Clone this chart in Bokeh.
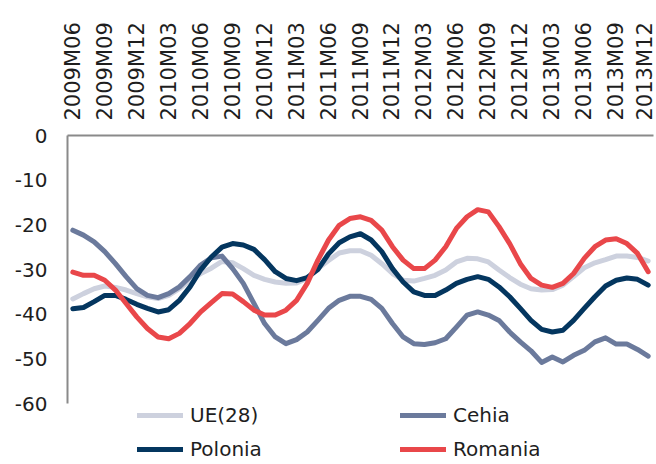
import math
from bokeh.plotting import figure
from bokeh.models import Range1d, FixedTicker, Legend, LegendItem
from bokeh.embed import file_html
from bokeh.resources import INLINE

TICK_LABELS = ["2009M06", "2009M09", "2009M12", "2010M03", "2010M06", "2010M09",
               "2010M12", "2011M03", "2011M06", "2011M09", "2011M12", "2012M03",
               "2012M06", "2012M09", "2012M12", "2013M03", "2013M06", "2013M09",
               "2013M12"]
TICK_STEP = 3  # quarterly labels on a monthly series
Y_TICKS = [0, -10, -20, -30, -40, -50, -60]

UE28 = [-36.6, -35.4, -34.3, -33.7, -34.0, -34.6, -35.4, -36.1, -36.5, -35.8,
        -34.3, -32.4, -30.9, -29.7, -28.2, -28.5, -29.8, -31.3, -32.2, -32.8,
        -33.1, -33.0, -32.0, -29.8, -28.0, -26.3, -25.8, -25.8, -26.8, -28.7,
        -30.9, -32.4, -32.6, -32.0, -31.3, -30.1, -28.3, -27.5, -27.6, -28.3,
        -30.1, -31.8, -33.3, -34.3, -34.6, -34.5, -33.5, -31.6, -29.6, -28.5,
        -27.8, -27.0, -27.0, -27.3, -28.1]
CEHIA = [-21.2, -22.3, -23.8, -26.0, -28.7, -31.6, -34.3, -35.8, -36.3, -35.4,
         -33.9, -31.6, -29.0, -27.4, -27.0, -29.8, -33.1, -37.6, -42.1, -45.1,
         -46.6, -45.7, -44.0, -41.4, -38.7, -36.9, -36.0, -36.0, -36.7, -38.7,
         -42.1, -45.1, -46.6, -46.8, -46.4, -45.5, -42.9, -40.2, -39.5, -40.2,
         -41.4, -44.0, -46.2, -48.2, -50.8, -49.6, -50.7, -49.2, -48.1, -46.2,
         -45.3, -46.7, -46.7, -47.9, -49.4]
POLONIA = [-38.8, -38.5, -37.2, -35.8, -35.8, -36.7, -37.8, -38.7, -39.5, -39.0,
           -36.9, -33.9, -30.1, -27.2, -25.0, -24.2, -24.5, -25.5, -27.8, -30.5,
           -32.0, -32.5, -31.8, -30.0, -26.5, -24.0, -22.7, -22.0, -23.4, -26.0,
           -29.8, -32.8, -35.0, -35.8, -35.8, -34.6, -33.1, -32.2, -31.6, -32.2,
           -33.9, -36.1, -38.7, -41.4, -43.4, -44.0, -43.6, -41.4, -38.7, -36.1,
           -33.7, -32.4, -31.9, -32.2, -33.5]
ROMANIA = [-30.6, -31.3, -31.3, -32.4, -34.6, -37.6, -40.6, -43.2, -45.1, -45.5,
           -44.3, -42.1, -39.5, -37.4, -35.4, -35.5, -37.2, -39.1, -40.2, -40.2,
           -39.1, -36.9, -33.1, -27.9, -23.4, -20.1, -18.6, -18.2, -19.0, -21.2,
           -24.9, -27.9, -29.8, -29.8, -27.9, -24.9, -20.8, -18.2, -16.6, -17.1,
           -20.4, -24.2, -28.7, -32.0, -33.5, -34.0, -33.1, -30.9, -27.5, -24.9,
           -23.4, -23.1, -24.2, -26.4, -30.5]

SERIES = [("UE(28)", UE28, "#cdd1de"),
          ("Cehia", CEHIA, "#6b7a9c"),
          ("Polonia", POLONIA, "#04365f"),
          ("Romania", ROMANIA, "#e9474a")]

FONT = "DejaVu Sans"
TEXT = "#1e1e1e"
AXIS = "#8a8a8a"

W, H = 656, 464
TOP, LEFT, RIGHT = 135, 67, 3
AXIS_PX = 268          # pixel height of the -60..0 value axis
frame_h = H - TOP
y_min = Y_TICKS[-1] * frame_h / AXIS_PX   # extra room below for the legend

n = len(UE28)
xs = list(range(n))

p = figure(width=W, height=H, output_backend="svg", toolbar_location=None,
           x_range=Range1d(-0.5, n - 0.5), y_range=Range1d(y_min, 0),
           x_axis_location="above",
           min_border_left=LEFT, min_border_right=RIGHT, min_border_top=TOP,
           min_border_bottom=0)
p.outline_line_color = None
p.xgrid.visible = False
p.ygrid.visible = False
p.background_fill_color = "white"
p.border_fill_color = "white"

ticks = [i * TICK_STEP for i in range(len(TICK_LABELS))]
xa = p.xaxis[0]
xa.ticker = FixedTicker(ticks=ticks)
xa.major_label_overrides = {t: lab for t, lab in zip(ticks, TICK_LABELS)}
xa.major_label_orientation = math.pi / 2
xa.major_tick_out = 0
xa.major_tick_in = 0
xa.minor_tick_out = 0
xa.minor_tick_in = 0
xa.major_label_standoff = 15
xa.axis_line_color = AXIS
xa.axis_line_width = 2
xa.major_label_text_font = FONT
xa.major_label_text_font_size = "21px"
xa.major_label_text_color = TEXT

ya = p.yaxis[0]
ya.ticker = FixedTicker(ticks=Y_TICKS)
ya.major_label_overrides = {t: str(t) for t in Y_TICKS}
ya.bounds = (Y_TICKS[-1], Y_TICKS[0])
ya.major_tick_out = 0
ya.major_tick_in = 0
ya.minor_tick_out = 0
ya.minor_tick_in = 0
ya.major_label_standoff = 20
ya.axis_line_color = AXIS
ya.axis_line_width = 2
ya.major_label_text_font = FONT
ya.major_label_text_font_size = "20px"
ya.major_label_text_color = TEXT

items = []
for name, vals, col in SERIES:
    r = p.line(xs, vals, line_color=col, line_width=5, line_join="round",
               line_cap="round")
    items.append(LegendItem(label=name, renderers=[r]))

legend = Legend(items=items, orientation="horizontal", ncols=2,
                location=(70, 3), glyph_width=46, glyph_height=20,
                label_height=20, label_width=200, label_standoff=7,
                spacing=10, padding=0, margin=0,
                border_line_color=None, background_fill_alpha=0,
                label_text_font=FONT, label_text_font_size="20px",
                label_text_color=TEXT)
p.add_layout(legend, "center")

open("out.html", "w").write(file_html(p, INLINE))
